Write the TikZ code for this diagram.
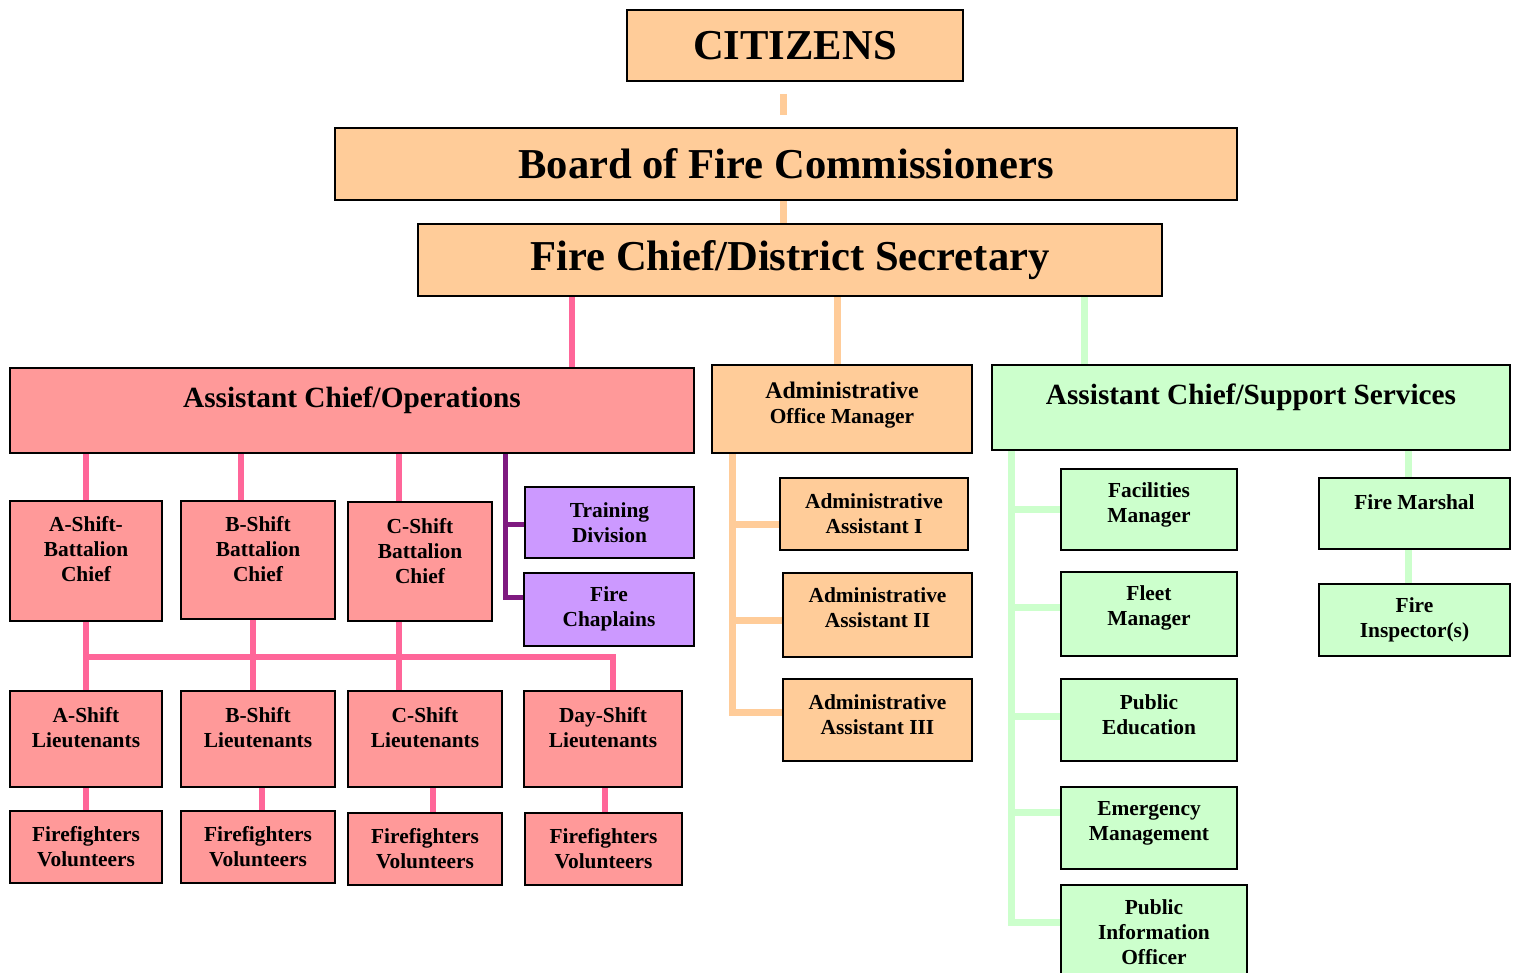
\documentclass[tikz,border=0pt]{standalone}
\usepackage{fontspec}
\setmainfont{Liberation Serif}
\usetikzlibrary{calc,backgrounds}
\definecolor{orF}{HTML}{FFCC99}
\definecolor{pkF}{HTML}{FF9999}
\definecolor{pkL}{HTML}{FF6699}
\definecolor{puF}{HTML}{CC99FF}
\definecolor{puL}{HTML}{7F1A80}
\definecolor{grF}{HTML}{CCFFCC}
\newcommand{\mybox}[8]{%
  \node[#2, minimum width={#5-#3}, minimum height={#6-#4}] (#1) at ({(#3+#5)/2},{(#4+#6)/2}) {};
  \node[txt] (#1-t) at ({(#3+#5)/2},#7) {#8};}
\begin{document}
\begin{tikzpicture}[x=1pt,y=-1pt,
  box/.style={draw=black, line width=2pt, inner sep=0pt},
  obox/.style={box, fill=orF},
  pbox/.style={box, fill=pkF},
  ubox/.style={box, fill=puF},
  gbox/.style={box, fill=grF},
  txt/.style={align=center, inner sep=0pt, font=\bfseries\fontsize{21.4}{25}\selectfont},
  oline/.style={draw=orF, line width=7pt},
  pline/.style={draw=pkL, line width=6pt},
  uline/.style={draw=puL, line width=5pt},
  gline/.style={draw=grF, line width=7pt},
  line join=miter]
\clip (0,0) rectangle (1518,973);
\useasboundingbox (0,0) rectangle (1518,973);
% top
\mybox{cit}{obox}{627}{10}{963}{81}{46}{\fontsize{42.6}{46}\selectfont CITIZENS}
\mybox{board}{obox}{335}{128}{1237}{200}{164}{\fontsize{42.6}{46}\selectfont Board of Fire Commissioners}
\mybox{chief}{obox}{418}{224}{1162}{296}{260}{\fontsize{42.6}{46}\selectfont Fire Chief/District Secretary}
% level 2
\mybox{ops}{pbox}{10}{368}{694}{453}{400}{\fontsize{29.3}{33}\selectfont Assistant Chief/Operations}
\mybox{adm}{obox}{712}{365}{972}{453}{405}{\fontsize{23.8}{28}\selectfont Administrative\\Office Manager}
\mybox{sup}{gbox}{992}{365}{1510}{450}{397}{\fontsize{29.3}{33}\selectfont Assistant Chief/Support Services}
% operations
\mybox{abc}{pbox}{10}{501}{162}{621}{549}{A-Shift-\\Battalion\\Chief}
\mybox{bbc}{pbox}{181}{501}{335}{619}{549}{B-Shift\\Battalion\\Chief}
\mybox{cbc}{pbox}{348}{502}{492}{621}{551}{C-Shift\\Battalion\\Chief}
\mybox{trn}{ubox}{525}{487}{694}{558}{523}{Training\\Division}
\mybox{chp}{ubox}{524}{573}{694}{646}{609}{Fire\\Chaplains}
\mybox{alt}{pbox}{10}{691}{162}{787}{728}{A-Shift\\Lieutenants}
\mybox{blt}{pbox}{181}{691}{335}{787}{728}{B-Shift\\Lieutenants}
\mybox{clt}{pbox}{348}{691}{502}{787}{728}{C-Shift\\Lieutenants}
\mybox{dlt}{pbox}{524}{691}{682}{787}{728}{Day-Shift\\Lieutenants}
\mybox{aff}{pbox}{10}{811}{162}{883}{847}{Firefighters\\Volunteers}
\mybox{bff}{pbox}{181}{811}{335}{883}{847}{Firefighters\\Volunteers}
\mybox{cff}{pbox}{348}{813}{502}{885}{849}{Firefighters\\Volunteers}
\mybox{dff}{pbox}{525}{813}{682}{885}{849}{Firefighters\\Volunteers}
% admin
\mybox{aa1}{obox}{780}{478}{968}{550}{514}{Administrative\\Assistant I}
\mybox{aa2}{obox}{783}{573}{972}{657}{608}{Administrative\\Assistant II}
\mybox{aa3}{obox}{783}{679}{972}{761}{715}{Administrative\\Assistant III}
% support
\mybox{fac}{gbox}{1061}{469}{1237}{550}{505}{Facilities\\Manager}
\mybox{flt}{gbox}{1061}{572}{1237}{656}{608}{Fleet\\Manager}
\mybox{ped}{gbox}{1061}{679}{1237}{761}{715}{Public\\Education}
\mybox{emg}{gbox}{1061}{787}{1237}{869}{823}{Emergency\\Management}
\mybox{pio}{gbox}{1061}{885}{1247}{990}{932}{Public\\Information\\Officer}
\mybox{fm}{gbox}{1319}{478}{1510}{549}{502}{Fire Marshal}
\mybox{fi}{gbox}{1319}{584}{1510}{656}{620}{Fire\\Inspector(s)}
% connectors
\begin{scope}[on background layer]
\draw[oline] ($(783,0 |- cit.south)+(0,12)$) -- ($(783,0 |- board.north)+(0,-12)$);
\draw[oline] (783,0 |- board.south) -- (783,0 |- chief.north);
\draw[pline] (572,0 |- chief.south) -- (572,0 |- ops.north);
\draw[oline] (837,0 |- chief.south) -- (837,0 |- adm.north);
\draw[gline] (1084,0 |- chief.south) -- (1084,0 |- sup.north);
% operations
\draw[pline] (abc.north |- ops.south) -- (abc.north);
\draw[pline] (241,0 |- ops.south) -- (241,0 |- bbc.north);
\draw[pline] (399,0 |- ops.south) -- (399,0 |- cbc.north);
\draw[uline] (505,0 |- ops.south) -- (505,597) -- (505,597 -| chp.west);
\draw[uline] (505,524) -- (505,524 -| trn.west);
\draw[pline] (abc.south) -- (alt.north);
\draw[pline] (253,0 |- bbc.south) -- (253,0 |- blt.north);
\draw[pline] (399,0 |- cbc.south) -- (399,0 |- clt.north);
\draw[pline] (abc.south |- 0,657) -- (613,657) -- (613,0 |- dlt.north);
\draw[pline] (alt.south) -- (aff.north);
\draw[pline] (262,0 |- blt.south) -- (262,0 |- bff.north);
\draw[pline] (433,0 |- clt.south) -- (433,0 |- cff.north);
\draw[pline] (605,0 |- dlt.south) -- (605,0 |- dff.north);
% admin
\draw[oline] (732,0 |- adm.south) -- (732,712) -- (732,712 -| aa3.west);
\draw[oline] (732,524) -- (732,524 -| aa1.west);
\draw[oline] (732,620) -- (732,620 -| aa2.west);
% support
\draw[gline] (1011,0 |- sup.south) -- (1011,922) -- (1011,922 -| pio.west);
\draw[gline] (1011,509) -- (1011,509 -| fac.west);
\draw[gline] (1011,607) -- (1011,607 -| flt.west);
\draw[gline] (1011,716) -- (1011,716 -| ped.west);
\draw[gline] (1011,812) -- (1011,812 -| emg.west);
\draw[gline] (1408,0 |- sup.south) -- (1408,0 |- fm.north);
\draw[gline] (1408,0 |- fm.south) -- (1408,0 |- fi.north);
\end{scope}
\end{tikzpicture}
\end{document}
